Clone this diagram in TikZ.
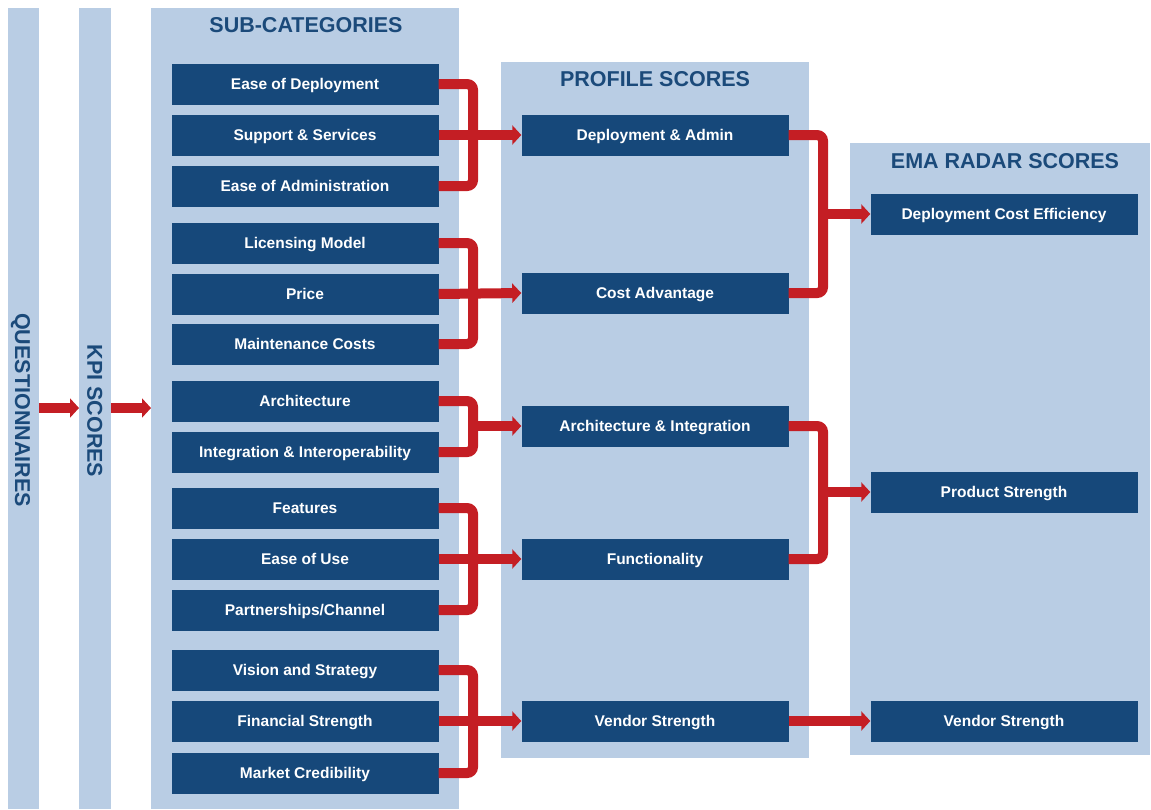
\documentclass[tikz,border=0pt]{standalone}
\usepackage{fontspec}
\setmainfont{Liberation Sans}
\usetikzlibrary{arrows.meta}
\definecolor{panel}{RGB}{185,205,228}
\definecolor{boxblue}{RGB}{22,72,122}
\definecolor{titleblue}{RGB}{27,74,122}
\definecolor{linkred}{RGB}{196,30,36}
\begin{document}
\begin{tikzpicture}[x=1pt,y=-1pt,
  panelbox/.style={fill=panel,draw=none,inner sep=0pt,anchor=north west},
  itembox/.style={fill=boxblue,draw=none,text=white,font=\bfseries\fontsize{15.5}{18}\selectfont,
    minimum width=267pt,minimum height=41pt,inner sep=0pt,text height=11pt,text depth=0pt},
  heading/.style={text=titleblue,font=\bfseries\fontsize{21.5}{24}\selectfont,inner sep=0pt,
    text height=15.5pt,text depth=0pt},
  sideheading/.style={heading,rotate=-90},
  conn/.style={draw=linkred,line width=10pt,rounded corners=6pt},
  arrowline/.style={draw=linkred,line width=10pt,-{Triangle[length=9pt,width=19pt]}}]
\useasboundingbox (0,0) rectangle (1151,809);

% column panels
\node[panelbox,minimum width=31pt,minimum height=801pt] (qcol) at (8,8) {};
\node[panelbox,minimum width=32pt,minimum height=801pt] (kcol) at (79,8) {};
\node[panelbox,minimum width=308pt,minimum height=801pt] (scol) at (151,8) {};
\node[panelbox,minimum width=308pt,minimum height=696pt] (pcol) at (501,62) {};
\node[panelbox,minimum width=300pt,minimum height=612pt] (ecol) at (850,143) {};

% headings
\node[sideheading] (qtitle) at (23,410) {QUESTIONNAIRES};
\node[sideheading] (ktitle) at (95,411) {KPI SCORES};
\node[heading] (stitle) at (306,25) {SUB-CATEGORIES};
\node[heading] (ptitle) at (655,79) {PROFILE SCORES};
\node[heading] (etitle) at (1005,161) {EMA RADAR SCORES};

% sub-categories
\node[itembox] (s1) at (305,84) {Ease of Deployment};
\node[itembox] (s2) at (305,135) {Support \& Services};
\node[itembox] (s3) at (305,186) {Ease of Administration};
\node[itembox] (s4) at (305,243) {Licensing Model};
\node[itembox] (s5) at (305,294) {Price};
\node[itembox] (s6) at (305,344) {Maintenance Costs};
\node[itembox] (s7) at (305,401) {Architecture};
\node[itembox] (s8) at (305,452) {Integration \& Interoperability};
\node[itembox] (s9) at (305,508) {Features};
\node[itembox] (s10) at (305,559) {Ease of Use};
\node[itembox] (s11) at (305,610) {Partnerships/Channel};
\node[itembox] (s12) at (305,670) {Vision and Strategy};
\node[itembox] (s13) at (305,721) {Financial Strength};
\node[itembox] (s14) at (305,773) {Market Credibility};

% profile scores
\node[itembox] (p1) at (655,135) {Deployment \& Admin};
\node[itembox] (p2) at (655,293) {Cost Advantage};
\node[itembox] (p3) at (655,426) {Architecture \& Integration};
\node[itembox] (p4) at (655,559) {Functionality};
\node[itembox] (p5) at (655,721) {Vendor Strength};

% radar scores
\node[itembox] (e1) at (1004,214) {Deployment Cost Efficiency};
\node[itembox] (e2) at (1004,492) {Product Strength};
\node[itembox] (e3) at (1004,721) {Vendor Strength};

% bracket spines
\coordinate (sx) at (473,0);
\coordinate (px) at (823,0);
\coordinate (lvl) at (0,408);

% questionnaires -> KPI -> sub-categories
\draw[arrowline] (qcol.east |- lvl) -- (kcol.west |- lvl);
\draw[arrowline] (kcol.east |- lvl) -- (scol.west |- lvl);

% sub-categories -> profile scores
\draw[conn] (s1.east) -- (s1.east -| sx) -- (s3.east -| sx) -- (s3.east);
\draw[arrowline] (s2.east) -- (p1.west);
\draw[conn] (s4.east) -- (s4.east -| sx) -- (s6.east -| sx) -- (s6.east);
\draw[arrowline] (s5.east) -- (p2.west);
\draw[conn] (s7.east) -- (s7.east -| sx) -- (s8.east -| sx) -- (s8.east);
\draw[arrowline] (p3.west -| sx) -- (p3.west);
\draw[conn] (s9.east) -- (s9.east -| sx) -- (s11.east -| sx) -- (s11.east);
\draw[arrowline] (s10.east) -- (p4.west);
\draw[conn] (s12.east) -- (s12.east -| sx) -- (s14.east -| sx) -- (s14.east);
\draw[arrowline] (s13.east) -- (p5.west);

% profile scores -> radar scores
\draw[conn] (p1.east) -- (p1.east -| px) -- (p2.east -| px) -- (p2.east);
\draw[arrowline] (e1.west -| px) -- (e1.west);
\draw[conn] (p3.east) -- (p3.east -| px) -- (p4.east -| px) -- (p4.east);
\draw[arrowline] (e2.west -| px) -- (e2.west);
\draw[arrowline] (p5.east) -- (e3.west);
\end{tikzpicture}
\end{document}
